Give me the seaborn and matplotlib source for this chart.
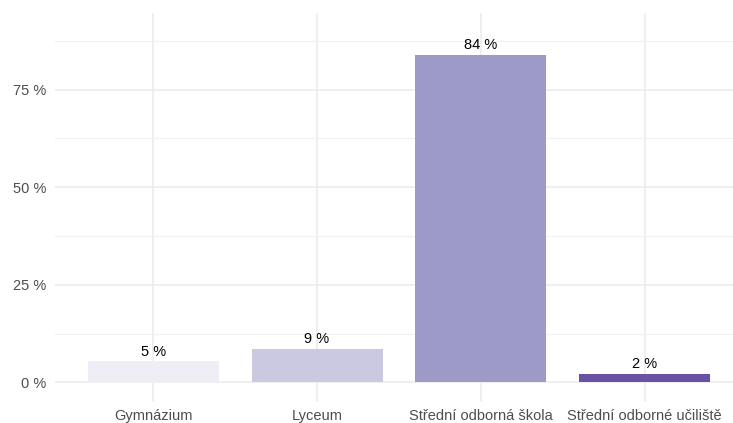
import pandas as pd
import seaborn as sns
import matplotlib.pyplot as plt
from matplotlib.ticker import FuncFormatter, MultipleLocator, FixedLocator

# data
categories = ["Gymnázium", "Lyceum", "Střední odborná škola", "Střední odborné učiliště"]
shares = [5.4, 8.6, 83.9, 2.2]
bar_colors = ["#efedf5", "#cbc9e2", "#9e9ac8", "#6a51a3"]
y_ticks = [0, 25, 50, 75]

df = pd.DataFrame({"skola": categories, "podil": shares})

sns.set_theme(style="whitegrid")
plt.rcParams["font.family"] = ["Liberation Sans", "DejaVu Sans"]

fig = plt.figure(figsize=(7.33, 4.23), dpi=100)
ax = fig.add_axes([55 / 733, 21 / 423, 678 / 733, 389 / 423])

sns.barplot(data=df, x="skola", y="podil", hue="skola", palette=bar_colors,
            width=0.8, legend=False, ax=ax, saturation=1, linewidth=0)

for cont, v in zip(ax.containers, shares):
    ax.bar_label(cont, labels=[f"{round(v)} %"], padding=2, fontsize=10.5, color="black")

ax.set_xlim(-0.6, 3.54)
ax.set_ylim(-5.0, 94.6)
ax.yaxis.set_major_locator(FixedLocator(y_ticks))
ax.yaxis.set_minor_locator(MultipleLocator(12.5))
ax.yaxis.set_major_formatter(FuncFormatter(lambda v, p: f"{v:.0f} %"))

ax.grid(True, which="major", color="#ebebeb", linewidth=1.1)
ax.grid(True, which="minor", axis="y", color="#f1f1f1", linewidth=0.9)
ax.set_axisbelow(True)
for s in ax.spines.values():
    s.set_visible(False)

ax.tick_params(axis="both", which="both", length=0, labelcolor="#4d4d4d")
ax.tick_params(axis="y", pad=6, labelsize=10.5)
ax.tick_params(axis="x", pad=5, labelsize=10.5)
ax.set_xlabel("")
ax.set_ylabel("")

fig.savefig("out.png", dpi=100, facecolor="white")
